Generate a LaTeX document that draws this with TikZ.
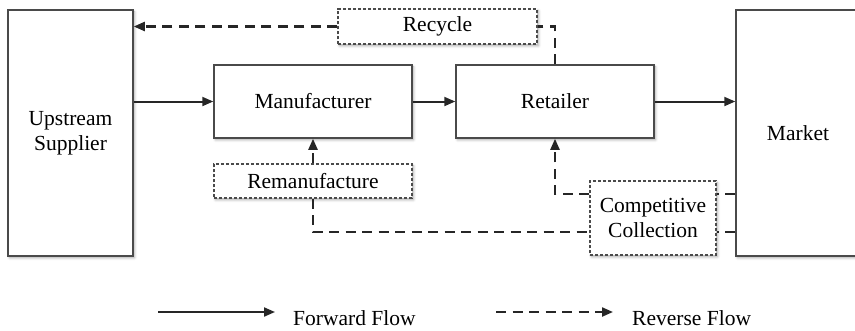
\documentclass[tikz,border=0pt]{standalone}
\usepackage{fontspec}
\setmainfont{Liberation Serif}
\usetikzlibrary{arrows.meta,shadows.blur}

\definecolor{boxgray}{HTML}{4A4A4A}
\definecolor{flowink}{HTML}{262626}

\begin{document}
\begin{tikzpicture}[x=1pt,y=-1pt,
  txt/.style={font=\fontsize{21.5}{25}\selectfont, text=black},
  shadowed/.style={blur shadow={shadow xshift=1.5pt, shadow yshift=-1.8pt,
      shadow blur radius=2.5pt, shadow opacity=35}},
  stagebox/.style={txt, draw=boxgray, line width=1.5pt, fill=white,
      align=center, inner sep=0pt, shadowed},
  routebox/.style={stagebox, dash pattern=on 3.2pt off 1.8pt, line width=1.4pt},
  tip/.style={-{Triangle[length=11pt,width=9pt]}},
  fwd/.style={draw=flowink, line width=2pt},
  rev/.style={draw=flowink, line width=2.2pt, dash pattern=on 10pt off 6.5pt}]

\useasboundingbox (0,0) rectangle (855,330);

% supply-chain stages
\node[stagebox, minimum width=125pt, minimum height=246pt] (sup) at (70.5,133) {Upstream\\Supplier};
\node[stagebox, minimum width=198pt, minimum height=73pt] (man) at (313,101.5) {Manufacturer};
\node[stagebox, minimum width=198pt, minimum height=73pt] (ret) at (555,101.5) {Retailer};
\node[stagebox, minimum width=124pt, minimum height=246pt] (mkt) at (798,133) {Market};

% reverse-channel activities
\node[routebox, minimum width=199pt, minimum height=35pt] (rec) at (437.5,26.5) {Recycle};
\node[routebox, minimum width=198pt, minimum height=34pt] (rem) at (313,181) {Remanufacture};
\node[routebox, minimum width=126pt, minimum height=74pt] (col) at (653,218) {Competitive\\Collection};

% heights of the collection return lines
\coordinate (upy) at (0,194);
\coordinate (lowy) at (0,232);

% forward flow
\draw[fwd, tip] (sup.east |- man.west) -- (man.west);
\draw[fwd, tip] (man.east) -- (ret.west);
\draw[fwd, tip] (ret.east) -- (ret.east -| mkt.west);

% reverse flow
\draw[rev] (ret.north) |- (rec.east);
\draw[rev, tip] (rec.west) -- (rec.west -| sup.east);
\draw[rev, tip] (rem.north) -- (man.south);
\draw[rev] (rem.south) |- (col.west |- lowy);
\draw[rev, tip] (col.west |- upy) -| (ret.south);
\draw[rev] (mkt.west |- upy) -- (col.east |- upy);
\draw[rev] (mkt.west |- lowy) -- (col.east |- lowy);

% legend
\coordinate (fa) at (158,312);
\coordinate (fb) at (275,312);
\coordinate (ra) at (496,312);
\coordinate (rb) at (613,312);
\draw[fwd, tip] (fa) -- (fb);
\draw[rev, tip] (ra) -- (rb);
\node[txt, anchor=base west, inner sep=0pt] (flab) at (293,325.5) {Forward Flow};
\node[txt, anchor=base west, inner sep=0pt] (rlab) at (632,325.5) {Reverse Flow};

\end{tikzpicture}
\end{document}
